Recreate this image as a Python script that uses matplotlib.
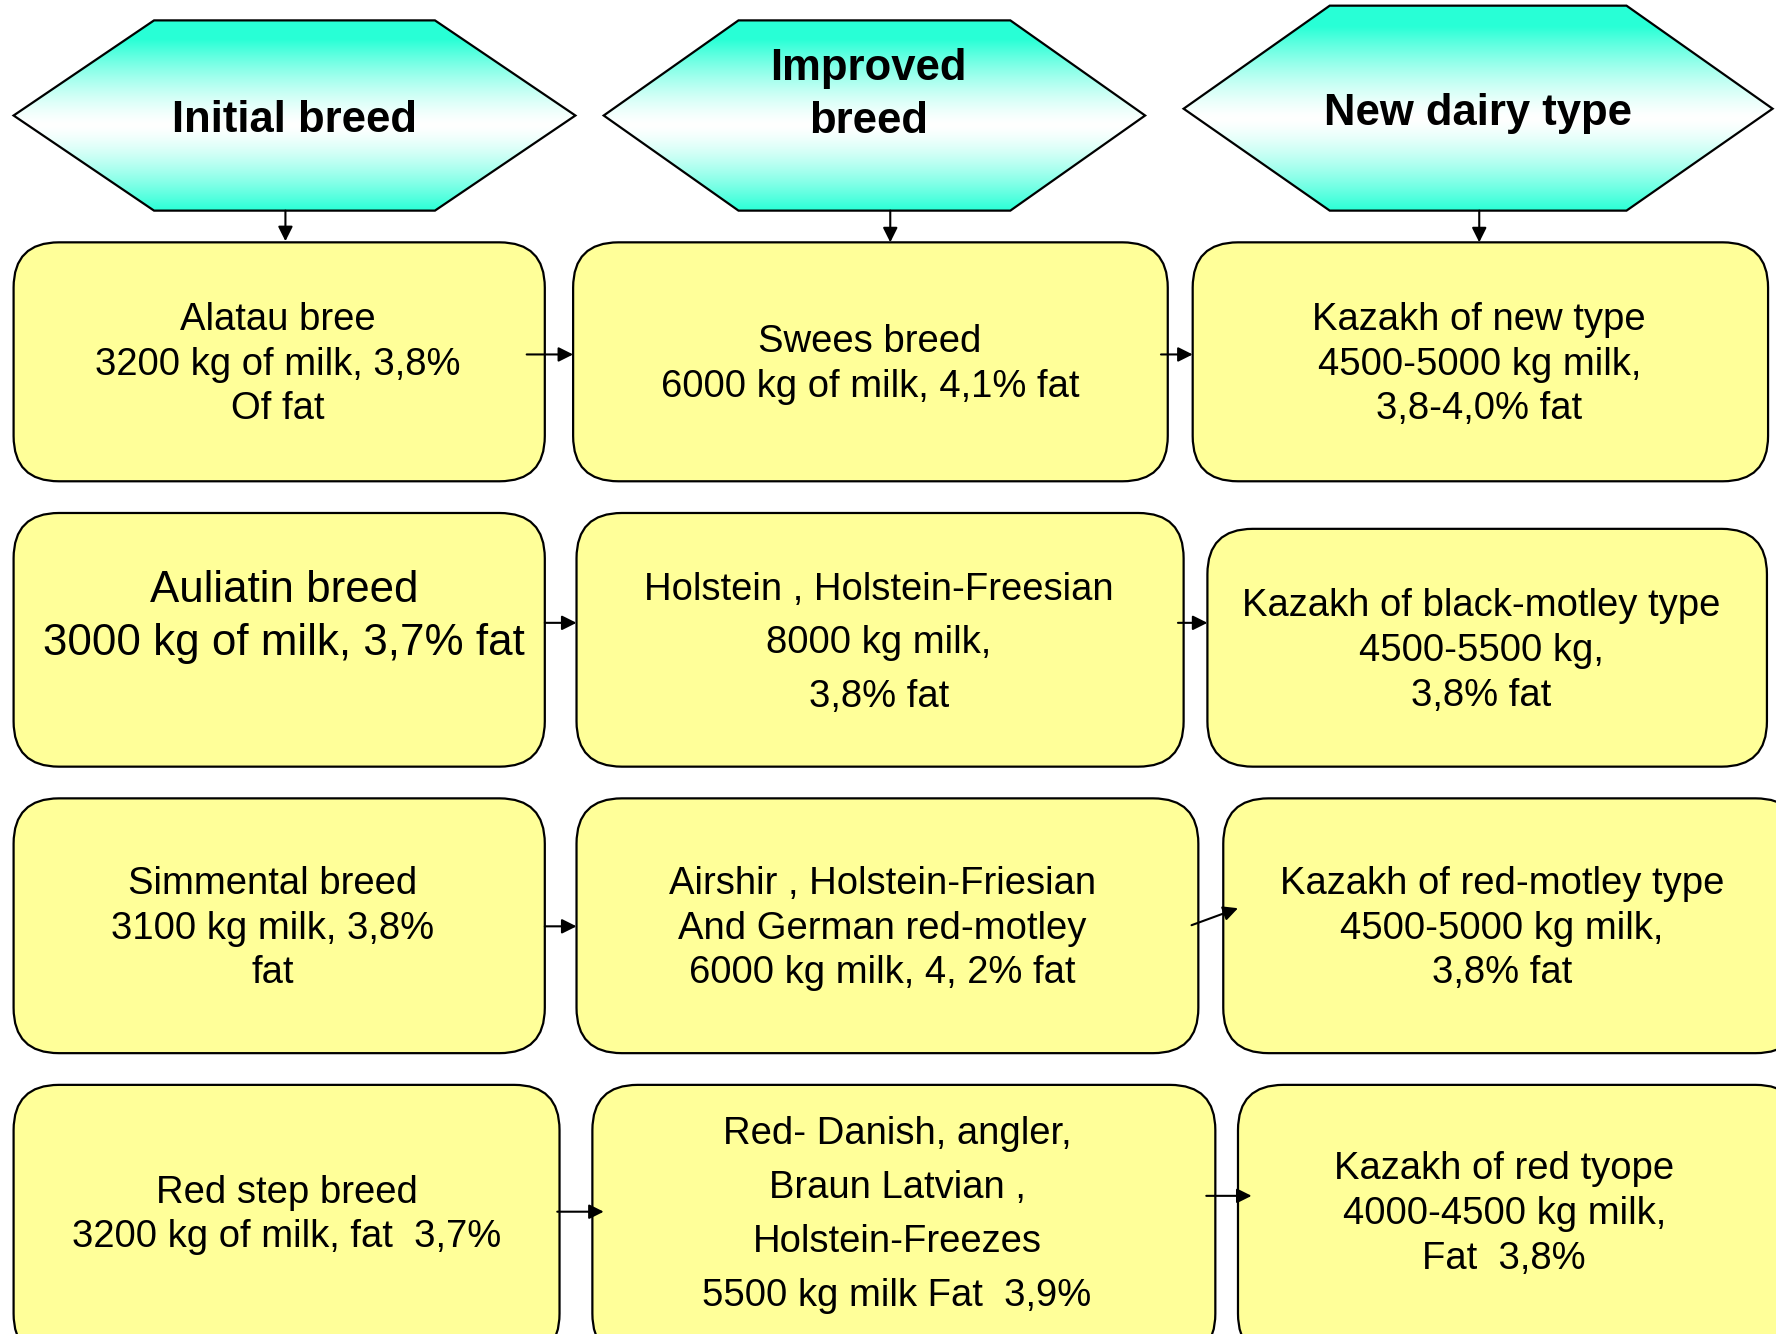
"""
Breeding scheme: initial breed -> improved breed -> new dairy type
"""
import matplotlib
matplotlib.use('Agg')
import matplotlib.pyplot as plt
import numpy as np
from matplotlib.patches import FancyBboxPatch, Polygon

plt.rcParams['font.family'] = ['Liberation Sans', 'DejaVu Sans']

# Contenido del esquema
headers = ['Initial breed', 'Improved\nbreed', 'New dairy type']

initial_breeds = [
    'Alatau bree\n3200 kg of milk, 3,8%\nOf fat',
    'Auliatin breed\n3000 kg of milk, 3,7% fat',
    'Simmental breed\n3100 kg milk, 3,8%\nfat',
    'Red step breed\n3200 kg of milk, fat  3,7%',
]
improved_breeds = [
    'Swees breed\n6000 kg of milk, 4,1% fat',
    'Holstein , Holstein-Freesian\n8000 kg milk,\n3,8% fat',
    'Airshir , Holstein-Friesian\nAnd German red-motley\n6000 kg milk, 4, 2% fat',
    'Red- Danish, angler,\nBraun Latvian ,\nHolstein-Freezes\n5500 kg milk Fat  3,9%',
]
new_types = [
    'Kazakh of new type\n4500-5000 kg milk,\n3,8-4,0% fat',
    'Kazakh of black-motley type\n4500-5500 kg,\n3,8% fat',
    'Kazakh of red-motley type\n4500-5000 kg milk,\n3,8% fat',
    'Kazakh of red tyope\n4000-4500 kg milk,\nFat  3,8%',
]

# Layout (coordenadas en pixeles de la imagen, y hacia abajo)
W, H = 1568, 1178
hexagons = [  # left, corner1, corner2, right, top, bottom, mid
    (12, 136, 384, 508, 18, 186, 102),
    (533, 652, 892, 1011, 18, 186, 102),
    (1045, 1174, 1436, 1565, 5, 186, 96),
]
header_pos = [(260, 106), (767, 84), (1305, 100)]

boxes = [  # por columna: lista de (x0, y0, x1, y1)
    [(12, 214, 481, 425), (12, 453, 481, 677), (12, 705, 481, 930), (12, 958, 494, 1200)],
    [(506, 214, 1031, 425), (509, 453, 1045, 677), (509, 705, 1058, 930), (523, 958, 1073, 1200)],
    [(1053, 214, 1561, 425), (1066, 467, 1560, 677), (1080, 705, 1590, 930), (1093, 958, 1590, 1200)],
]
text_pos = [
    [(245, 322), (251, 545), (241, 820), (253, 1073)],
    [(768, 322), (776, 568), (779, 820), (792, 1073)],
    [(1306, 322), (1308, 575), (1326, 820), (1328, 1072)],
]
text_size = [[27.5, 31.6, 27.5, 27.5], [27.5] * 4, [27.5] * 4]
text_spacing = [[1.31, 1.37, 1.31, 1.31], [1.31, 1.62, 1.31, 1.64], [1.31, 1.31, 1.31, 1.31]]

down_arrows = [(252, 186, 213), (786, 186, 214), (1306, 186, 214)]
side_arrows = [
    ((465, 313), (506, 313)), ((1025, 313), (1053, 313)),
    ((481, 550), (509, 550)), ((1040, 550), (1066, 550)),
    ((481, 818), (509, 818)), ((1052, 817), (1093, 802)),
    ((492, 1070), (533, 1070)), ((1065, 1056), (1105, 1056)),
]

fig = plt.figure(figsize=(17.76, 13.34), dpi=100)
ax = fig.add_axes([0, 0, 1, 1])

# Hexagonos con degradado turquesa-blanco
teal = np.array([0.16, 1.0, 0.84])
for (l, c1, c2, r, t, b, m), label, (tx, ty) in zip(hexagons, headers, header_pos):
    pts = [(l, m), (c1, t), (c2, t), (r, m), (c2, b), (c1, b)]
    tt = np.linspace(0, 1, 256)
    f = np.clip(np.abs(tt - 0.55) / 0.45, 0, 1) ** 1.4
    rgb = (1 - f)[:, None] * np.ones(3) + f[:, None] * teal
    img = rgb[:, None, :]
    im = ax.imshow(img, extent=(l, r, b, t), origin='upper', aspect='auto',
                   interpolation='bilinear', zorder=1)
    poly = Polygon(pts, closed=True, facecolor='none', edgecolor='black',
                   linewidth=1.6, zorder=2)
    ax.add_patch(poly)
    im.set_clip_path(poly)
    ax.text(tx, ty, label, ha='center', va='center', fontsize=31.4,
            fontweight='bold', linespacing=1.38, zorder=3)

# Cajas amarillas
columns = [initial_breeds, improved_breeds, new_types]
for ci, col in enumerate(columns):
    for ri, label in enumerate(col):
        x0, y0, x1, y1 = boxes[ci][ri]
        box = FancyBboxPatch((x0, y0), x1 - x0, y1 - y0,
                             boxstyle='round,pad=0,rounding_size=40',
                             facecolor='#FFFF99', edgecolor='black',
                             linewidth=1.6, zorder=2)
        ax.add_patch(box)
        tx, ty = text_pos[ci][ri]
        ax.text(tx, ty, label, ha='center', va='center',
                fontsize=text_size[ci][ri], linespacing=text_spacing[ci][ri],
                zorder=3)

# Flechas
arrow_kw = dict(arrowstyle='-|>', color='black', lw=1.5, mutation_scale=22,
                shrinkA=0, shrinkB=0)
for x, y0, y1 in down_arrows:
    ax.annotate('', xy=(x, y1), xytext=(x, y0), arrowprops=arrow_kw, zorder=4)
for start, end in side_arrows:
    ax.annotate('', xy=end, xytext=start, arrowprops=arrow_kw, zorder=4)

ax.set_xlim(0, W)
ax.set_ylim(H, 0)
ax.axis('off')

plt.savefig('out.png', dpi=100)
plt.close()
